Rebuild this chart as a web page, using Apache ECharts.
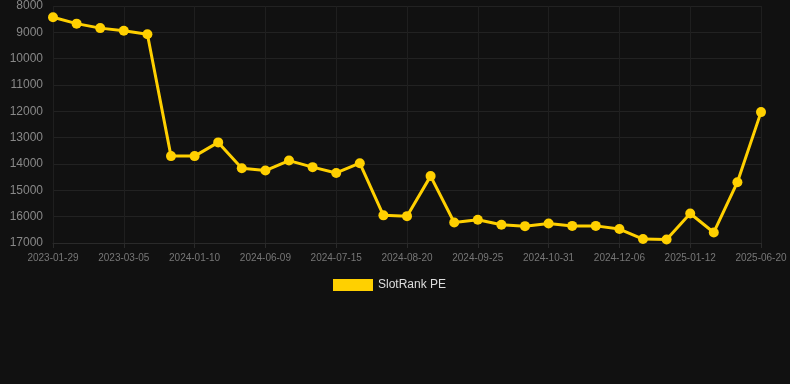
<!DOCTYPE html>
<html>
<head>
<meta charset="utf-8">
<script src="https://cdn.jsdelivr.net/npm/echarts@6/dist/echarts.min.js"></script>
<style>
html,body{margin:0;padding:0;background:#111111;}
#c{width:790px;height:384px;}
</style>
</head>
<body>
<div id="c"></div>
<script>
var categories = [
  "2023-01-29","2023-02-10","2023-02-22","2023-03-05","2023-03-17","2023-11-20",
  "2024-01-10","2024-03-01","2024-04-20","2024-06-09","2024-06-21","2024-07-03",
  "2024-07-15","2024-07-27","2024-08-08","2024-08-20","2024-09-01","2024-09-13",
  "2024-09-25","2024-10-07","2024-10-19","2024-10-31","2024-11-12","2024-11-24",
  "2024-12-06","2024-12-18","2024-12-30","2025-01-12","2025-03-01","2025-04-25",
  "2025-06-20"
];
var seriesName = "SlotRank PE";
var values = [
  8430, 8670, 8840, 8940, 9075, 13700,
  13700, 13180, 14160, 14250, 13870, 14120,
  14340, 13970, 15950, 15980, 14460, 16220,
  16120, 16310, 16360, 16260, 16350, 16350,
  16470, 16850, 16870, 15880, 16600, 14690,
  12030
];
var yMin = 8000, yMax = 17000, yInterval = 1000;

var chart = echarts.init(document.getElementById('c'), null, {renderer: 'canvas'});
chart.setOption({
  backgroundColor: '#111111',
  animation: false,
  grid: {left: 53, right: 29, top: 6, bottom: 141, containLabel: false},
  legend: {
    data: [seriesName],
    top: 274,
    left: 328,
    itemWidth: 40,
    itemHeight: 12,
    icon: 'rect',
    textStyle: {color: '#dddddd', fontSize: 12, fontFamily: 'Liberation Sans, Arial, sans-serif'}
  },
  xAxis: {
    type: 'category',
    data: categories,
    boundaryGap: false,
    axisLine: {show: true, lineStyle: {color: '#2a2a2a'}},
    axisTick: {show: true, interval: 2, lineStyle: {color: '#2a2a2a'}},
    axisLabel: {interval: 2, color: '#777777', fontSize: 10, margin: 10, fontFamily: 'Liberation Sans, Arial, sans-serif'},
    splitLine: {show: true, interval: 2, lineStyle: {color: '#1f1f1f'}}
  },
  yAxis: {
    type: 'value',
    inverse: true,
    min: yMin,
    max: yMax,
    interval: yInterval,
    axisLine: {show: false},
    axisTick: {show: false},
    axisLabel: {color: '#888888', fontSize: 12, margin: 10, fontFamily: 'Liberation Sans, Arial, sans-serif',
      formatter: function (v) { return String(v); }},
    splitLine: {show: true, lineStyle: {color: '#222222'}}
  },
  series: [{
    name: seriesName,
    type: 'line',
    data: values,
    symbol: 'circle',
    symbolSize: 10,
    itemStyle: {color: '#FFD000'},
    lineStyle: {color: '#FFD000', width: 3}
  }]
});
</script>
</body>
</html>
